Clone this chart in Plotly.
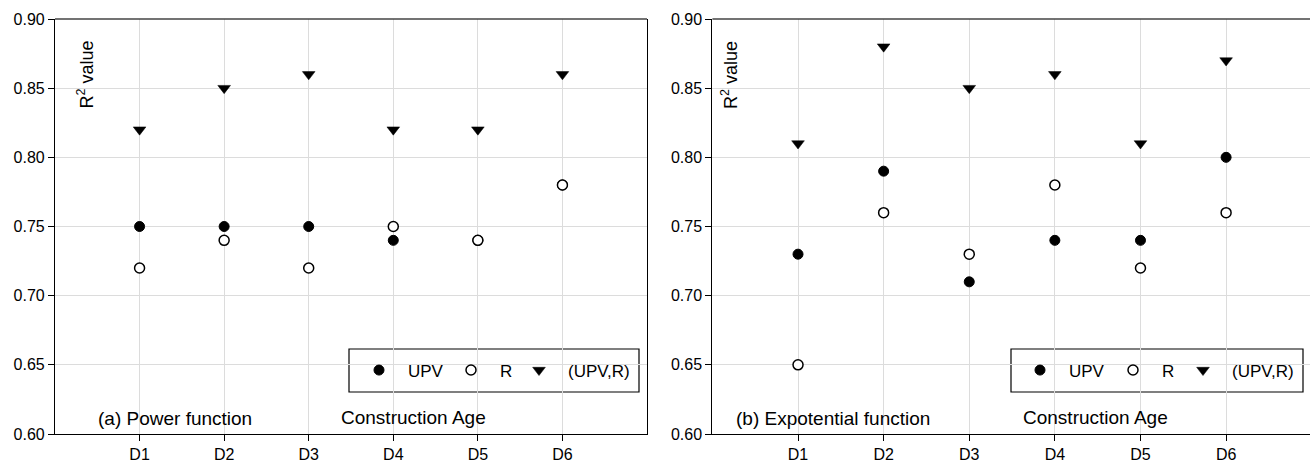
import plotly.graph_objects as go

categories = ["D1", "D2", "D3", "D4", "D5", "D6"]

# (a) Power function
a_upv = [0.75, 0.75, 0.75, 0.74, 0.74, 0.78]
a_r = [0.72, 0.74, 0.72, 0.75, 0.74, 0.78]
a_upvr = [0.82, 0.85, 0.86, 0.82, 0.82, 0.86]

# (b) Expotential function
b_upv = [0.73, 0.79, 0.71, 0.74, 0.74, 0.80]
b_r = [0.65, 0.76, 0.73, 0.78, 0.72, 0.76]
b_upvr = [0.81, 0.88, 0.85, 0.86, 0.81, 0.87]

y_ticks = [0.60, 0.65, 0.70, 0.75, 0.80, 0.85, 0.90]
series_names = ["UPV", "R", "(UPV,R)"]

W, H = 1310, 468
M_T, M_B = 19, 34
FONT = "Arial, Liberation Sans, sans-serif"


def px(x):
    return x / W


def py(y):
    # paper coords span the plotting region inside the margins
    return (H - M_B - y) / (H - M_T - M_B)


fig = go.Figure()

# legend marker x-positions (pixels) for each panel
legend_marker_px = [[379, 471, 539], [1040, 1133, 1203]]
LEG_Y = 370.5
ITEMW = 48
SYM_OFF = ITEMW / 2 + 5

symbols = [
    dict(symbol="circle", size=10, color="black", line=dict(color="black", width=1)),
    dict(symbol="circle", size=10, color="white", line=dict(color="black", width=1.5)),
    dict(symbol="triangle-down", size=11, color="black", line=dict(color="black", width=0.5)),
]

panels = [
    ("x", "y", [a_upv, a_r, a_upvr]),
    ("x2", "y2", [b_upv, b_r, b_upvr]),
]
legend_layouts = {}
lg_idx = 0
for p, (xa, ya, series) in enumerate(panels):
    for s, vals in enumerate(series):
        lg_idx += 1
        lg_name = "legend" if lg_idx == 1 else f"legend{lg_idx}"
        fig.add_trace(go.Scatter(
            x=categories, y=vals, mode="markers", name=series_names[s],
            xaxis=xa, yaxis=ya, legend=lg_name, marker=symbols[s],
        ))
        legend_layouts[lg_name] = dict(
            orientation="h", x=px(legend_marker_px[p][s] - SYM_OFF), y=py(LEG_Y),
            xanchor="left", yanchor="middle",
            bgcolor="rgba(0,0,0,0)", borderwidth=0,
            font=dict(family=FONT, size=17, color="black"), itemwidth=ITEMW,
        )

axis_common = dict(
    showline=True, linecolor="black", linewidth=1.2,
    ticks="outside", ticklen=6, tickcolor="black", tickwidth=1.2,
    showgrid=True, gridcolor="#dcdcdc", gridwidth=1,
    zeroline=False,
    tickfont=dict(family=FONT, size=16, color="black"),
)

fig.update_layout(
    width=W, height=H,
    margin=dict(l=0, r=0, t=M_T, b=M_B),
    paper_bgcolor="white", plot_bgcolor="white",
    font=dict(family=FONT, color="black"),
    xaxis=dict(domain=[px(55), px(647)], range=[-1, 6], type="category",
               categoryorder="array", categoryarray=categories, anchor="y", **axis_common),
    yaxis=dict(domain=[0, 1], range=[0.60, 0.90], tickvals=y_ticks, tickformat=".2f",
               anchor="x", mirror=True, **axis_common),
    xaxis2=dict(domain=[px(712.4), 1], range=[-1, 5.98], type="category",
                categoryorder="array", categoryarray=categories, anchor="y2", **axis_common),
    yaxis2=dict(domain=[0, 1], range=[0.60, 0.90], tickvals=y_ticks, tickformat=".2f",
                anchor="x2", **axis_common),
    showlegend=True,
    **legend_layouts,
)

shapes = []
for xr, yr in [("x domain", "y domain"), ("x2 domain", "y2 domain")]:
    shapes.append(dict(type="line", xref=xr, yref=yr, x0=0, x1=1, y0=1, y1=1,
                       line=dict(color="#444444", width=1.5)))
# legend boxes
shapes.append(dict(type="rect", xref="paper", yref="paper", x0=px(349), x1=px(639),
                   y0=py(392), y1=py(349), line=dict(color="black", width=1.2),
                   fillcolor="white", layer="below"))
shapes.append(dict(type="rect", xref="paper", yref="paper", x0=px(1011), x1=px(1303),
                   y0=py(392), y1=py(349), line=dict(color="black", width=1.2),
                   fillcolor="white", layer="below"))
fig.update_layout(shapes=shapes)

annotations = [
    dict(text="R<sup>2</sup> value", x=px(73), y=py(75), textangle=-90, font=dict(size=18)),
    dict(text="R<sup>2</sup> value", x=px(730), y=py(75), textangle=-90, font=dict(size=18)),
    dict(text="(a) Power function", x=px(96), y=py(418), xanchor="left", font=dict(size=19)),
    dict(text="Construction Age", x=px(339), y=py(417), xanchor="left", font=dict(size=19)),
    dict(text="(b) Expotential function", x=px(734), y=py(418), xanchor="left", font=dict(size=19)),
    dict(text="Construction Age", x=px(1021), y=py(417), xanchor="left", font=dict(size=19)),
]
for a in annotations:
    a.update(xref="paper", yref="paper", showarrow=False)
    a.setdefault("yanchor", "middle")
    a["font"].update(family=FONT, color="black")
fig.update_layout(annotations=annotations)

fig.write_html(
    "out.html",
    config={"displayModeBar": False},
    post_script="document.body.style.margin='0';document.body.style.overflow='hidden';",
)
